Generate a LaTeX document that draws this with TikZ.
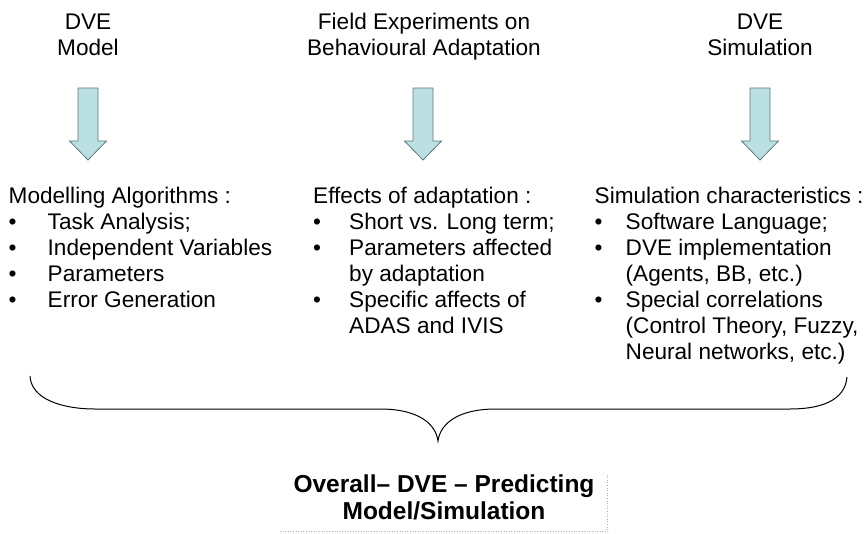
\documentclass[tikz,border=0pt]{standalone}
\usepackage{fontspec}
\setmainfont{Liberation Sans}
\usetikzlibrary{positioning}

\definecolor{arrowfill}{RGB}{187,224,227}
\definecolor{arrowline}{RGB}{96,118,120}

% bullet line of fixed indent
\newcommand{\bitem}[2]{\makebox[#1pt][l]{\textbullet}#2}
\newcommand{\bcont}[2]{\hspace*{#1pt}#2}

\tikzset{
	coltext/.style={inner sep=0pt, align=left, font=\fontsize{22.6}{26}\selectfont},
	headtext/.style={inner sep=0pt, align=center, font=\fontsize{22.6}{26.5}\selectfont},
	resulttext/.style={inner sep=0pt, align=center, font=\fontsize{24.5}{27}\selectfont\bfseries},
	blockarrow/.style={fill=arrowfill, draw=arrowline, line width=0.8pt, line join=miter},
	bracket/.style={line width=1pt, black},
	shadowline/.style={gray!60, line width=0.6pt, dotted, double, double distance=1pt}
}

\begin{document}
\begin{tikzpicture}[x=1pt,y=-1pt]
	\useasboundingbox (0,0) rectangle (867,533);
	% headings (base = last line)
		\node [headtext, anchor=base] (dvemodel) at (88,55.5) {DVE\\Model};
		\node [headtext, anchor=base] (fieldexp) at (424,55.5) {Field Experiments on\\Behavioural Adaptation};
		\node [headtext, anchor=base] (dvesim) at (760,55.5) {DVE\\Simulation};
	% block arrows
		\foreach \ax in {88,423,760}
			\draw [blockarrow] (\ax-10,88) -- (\ax+10,88) -- (\ax+10,141) -- (\ax+18.5,141)
				-- (\ax,160) -- (\ax-18.5,141) -- (\ax-10,141) -- cycle;
	% columns
		\node [coltext, anchor=base west] (algos) at (8.5,307) {Modelling Algorithms :\\
			\bitem{39}{Task Analysis;}\\
			\bitem{39}{Independent Variables}\\
			\bitem{39}{Parameters}\\
			\bitem{39}{Error Generation}};
		\node [coltext, anchor=base west] (effects) at (313,333) {Effects of adaptation :\\
			\bitem{36}{Short vs. Long term;}\\
			\bitem{36}{Parameters affected}\\
			\bcont{36}{by adaptation}\\
			\bitem{36}{Specific affects of}\\
			\bcont{36}{ADAS and IVIS}};
		\node [coltext, anchor=base west] (simchar) at (594.5,359) {Simulation characteristics :\\
			\bitem{31}{Software Language;}\\
			\bitem{31}{DVE implementation}\\
			\bcont{31}{(Agents, BB, etc.)}\\
			\bitem{31}{Special correlations}\\
			\bcont{31}{(Control Theory, Fuzzy,}\\
			\bcont{31}{Neural networks, etc.)}};
	% brace
		\coordinate (braceL) at (30,376);
		\coordinate (braceR) at (847,377);
		\coordinate (braceTip) at (438,441);
		\draw [bracket] (braceL) .. controls (31,399) and (62,409) .. (95,409) -- (380,409)
			.. controls (420,409) and (436,425) .. (braceTip)
			.. controls (440,425) and (456,409) .. (496,409) -- (790,409)
			.. controls (820,409) and (845,401) .. (braceR);
	% result
		\node [resulttext, anchor=base] (overall) at (444,519) {Overall-- DVE -- Predicting\\Model/Simulation};
		\draw [shadowline] (280,532) -- (608,532) -- (608,473);
\end{tikzpicture}
\end{document}
